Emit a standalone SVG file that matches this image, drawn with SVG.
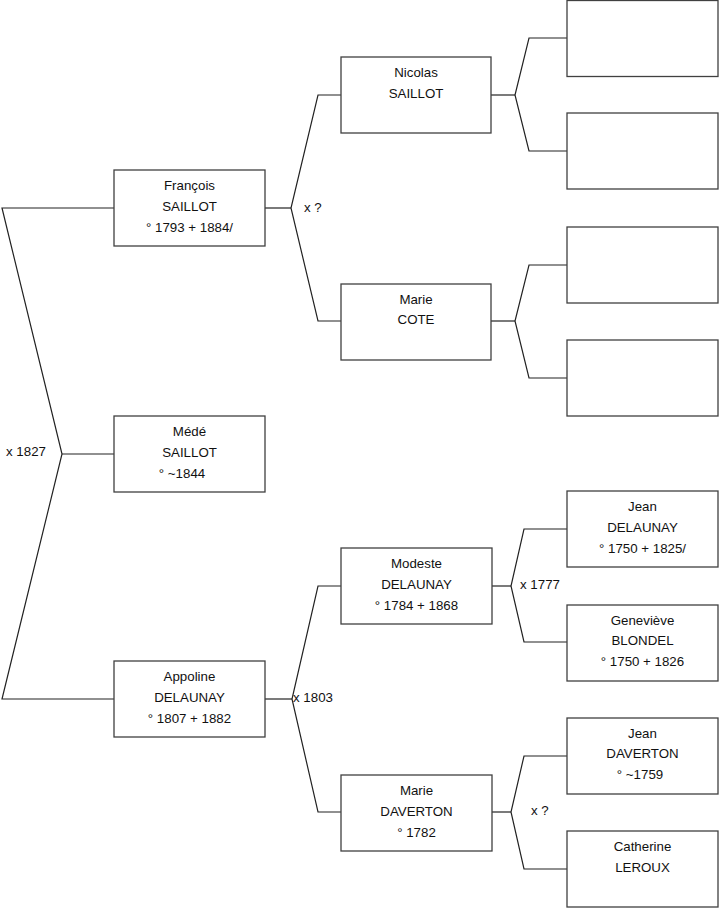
<svg xmlns="http://www.w3.org/2000/svg" width="719" height="908" viewBox="0 0 719 908">
<style>
.box{fill:#fff;stroke:#404040;stroke-width:1.3}
.ln{fill:none;stroke:#222;stroke-width:1.2}
text{font-family:"Liberation Sans",Arial,sans-serif;font-size:13.3px;fill:#111}
.c{text-anchor:middle}
</style>
<rect width="719" height="908" fill="#fff"/>
<g id="connectors">
<polyline class="ln" points="114,208 2,208 62,454 2,699 114,699"/>
<line class="ln" x1="62" y1="454" x2="114" y2="454"/>
<polyline class="ln" points="341,95 318,95 291,208 318,321 341,321"/>
<line class="ln" x1="265" y1="208" x2="291" y2="208"/>
<polyline class="ln" points="567,38 529,38 515,95 529,151 567,151"/>
<line class="ln" x1="491" y1="95" x2="515" y2="95"/>
<polyline class="ln" points="567,265 529,265 515,321 529,378 567,378"/>
<line class="ln" x1="491" y1="321" x2="515" y2="321"/>
<polyline class="ln" points="341,586 318,586 292,699 318,812 341,812"/>
<line class="ln" x1="265" y1="699" x2="292" y2="699"/>
<polyline class="ln" points="567,529 524,529 511,586 524,642 567,642"/>
<line class="ln" x1="492" y1="586" x2="511" y2="586"/>
<polyline class="ln" points="567,756 524,756 511,812 524,869 567,869"/>
<line class="ln" x1="492" y1="812" x2="511" y2="812"/>
<text x="6" y="456">x 1827</text>
<text x="304" y="212">x ?</text>
<text x="293" y="702">x 1803</text>
<text x="520" y="589">x 1777</text>
<text x="531" y="815">x ?</text>
</g>
<g id="francois"><rect class="box" x="114" y="170" width="151" height="76"/>
<text class="c" x="189.5" y="190">François</text><text class="c" x="189.5" y="211">SAILLOT</text><text class="c" x="189.5" y="232">° 1793 + 1884/</text></g>
<g id="mede"><rect class="box" x="114" y="416" width="151" height="76"/>
<text class="c" x="189.5" y="436">Médé</text><text class="c" x="189.5" y="457">SAILLOT</text><text class="c" x="182" y="478">° ~1844</text></g>
<g id="appoline"><rect class="box" x="114" y="661" width="151" height="76"/>
<text class="c" x="189.5" y="681">Appoline</text><text class="c" x="189.5" y="702">DELAUNAY</text><text class="c" x="189.5" y="723">° 1807 + 1882</text></g>
<g id="nicolas"><rect class="box" x="341" y="57" width="150" height="76"/>
<text class="c" x="416" y="77">Nicolas</text><text class="c" x="416" y="98">SAILLOT</text></g>
<g id="mariecote"><rect class="box" x="341" y="284" width="150" height="76"/>
<text class="c" x="416" y="304">Marie</text><text class="c" x="416" y="324">COTE</text></g>
<g id="modeste"><rect class="box" x="341" y="548" width="151" height="76"/>
<text class="c" x="416.5" y="568">Modeste</text><text class="c" x="416.5" y="589">DELAUNAY</text><text class="c" x="416.5" y="610">° 1784 + 1868</text></g>
<g id="mariedaverton"><rect class="box" x="341" y="775" width="151" height="76"/>
<text class="c" x="416.5" y="795">Marie</text><text class="c" x="416.5" y="816">DAVERTON</text><text class="c" x="416.5" y="837">° 1782</text></g>
<g id="empty1"><rect class="box" x="567" y="0.5" width="151" height="76"/></g>
<g id="empty2"><rect class="box" x="567" y="113" width="151" height="76"/></g>
<g id="empty3"><rect class="box" x="567" y="227" width="151" height="76"/></g>
<g id="empty4"><rect class="box" x="567" y="340" width="151" height="76"/></g>
<g id="jeandelaunay"><rect class="box" x="567" y="491" width="151" height="76"/>
<text class="c" x="642.5" y="511">Jean</text><text class="c" x="642.5" y="532">DELAUNAY</text><text class="c" x="642.5" y="553">° 1750 + 1825/</text></g>
<g id="genevieve"><rect class="box" x="567" y="605" width="151" height="76"/>
<text class="c" x="642.5" y="625">Geneviève</text><text class="c" x="642.5" y="645">BLONDEL</text><text class="c" x="642.5" y="666">° 1750 + 1826</text></g>
<g id="jeandaverton"><rect class="box" x="567" y="718" width="151" height="76"/>
<text class="c" x="642.5" y="738">Jean</text><text class="c" x="642.5" y="758">DAVERTON</text><text class="c" x="640" y="779">° ~1759</text></g>
<g id="catherine"><rect class="box" x="567" y="831" width="151" height="76"/>
<text class="c" x="642.5" y="851">Catherine</text><text class="c" x="642.5" y="872">LEROUX</text></g>
</svg>
